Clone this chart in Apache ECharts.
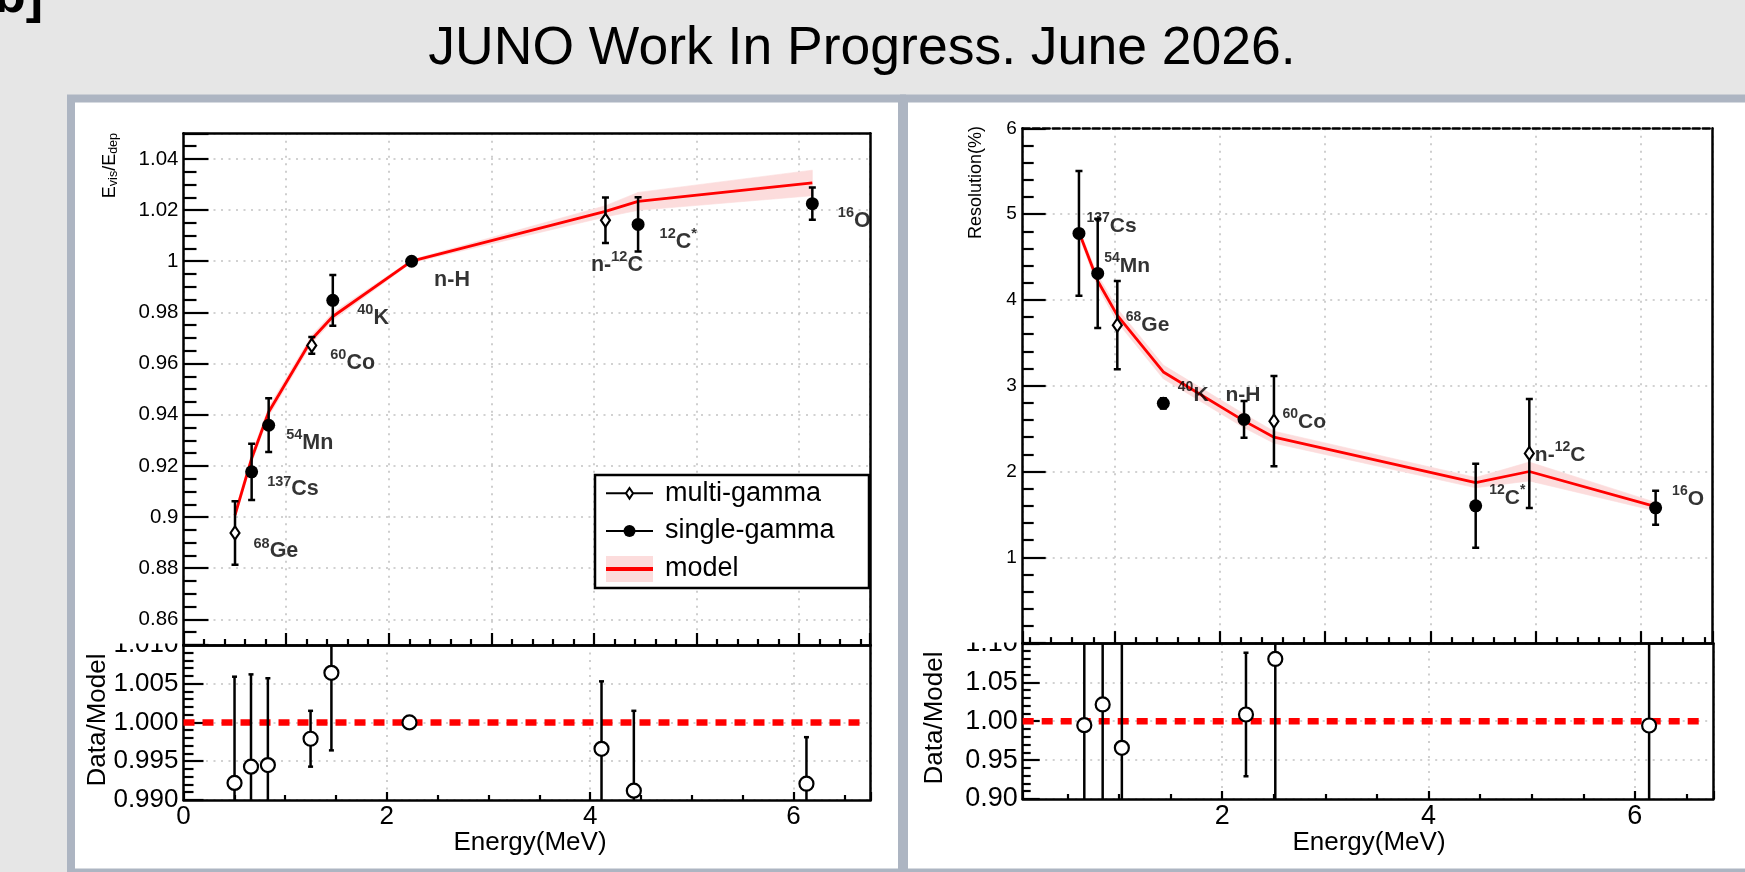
<!DOCTYPE html>
<html>
<head>
<meta charset="utf-8">
<script src="https://cdn.jsdelivr.net/npm/echarts@6/dist/echarts.min.js"></script>
<style>
  html, body { margin: 0; padding: 0; background: #e6e6e6; }
  #chart { width: 1745px; height: 872px; }
</style>
</head>
<body>
<div id="chart"></div>
<script>
const FONT = "'Liberation Sans', Arial, Helvetica, sans-serif";

// ---------- Energy non-linearity (left panel) ----------
const linMultiE   = [0.502, 1.250, 4.112];
const linMultiVal = [0.8938, 0.9671, 1.0160];
const linMultiErr = [0.0124, 0.0033, 0.0089];
const linMultiTag = ['{s|68}{m|Ge}', '{s|60}{m|Co}', '{m|n-}{s|12}{m|C}'];

const linSingleE   = [0.664, 0.830, 1.455, 2.223, 4.430, 6.128];
const linSingleVal = [0.9177, 0.9359, 0.9847, 1.0000, 1.0144, 1.0225];
const linSingleErr = [0.0110, 0.0105, 0.0099, 0.0006, 0.0106, 0.0063];
const linSingleTag = ['{s|137}{m|Cs}', '{s|54}{m|Mn}', '{s|40}{m|K}', '{m|n-H}', '{s|12}{m|C}{s|*}', '{s|16}{m|O}'];

const linModelE    = [0.502, 0.664, 0.830, 1.250, 1.455, 2.223, 4.112, 4.430, 6.128];
const linModel     = [0.9008, 0.9229, 0.9411, 0.9695, 0.9784, 1.0000, 1.0195, 1.0234, 1.0306];
const linModelBand = [0.0015, 0.0018, 0.0018, 0.0016, 0.0015, 0.0006, 0.0022, 0.0035, 0.0050];

const linRatioE   = [0.502, 0.664, 0.830, 1.250, 1.455, 2.223, 4.112, 4.430, 6.128];
const linRatio    = [0.9922, 0.9943, 0.9945, 0.9979, 1.0064, 1.0000, 0.9966, 0.9912, 0.9921];
const linRatioErr = [0.0137, 0.0119, 0.0112, 0.0036, 0.0100, 0.0003, 0.0087, 0.0103, 0.0060];
const linUnityE   = [0.0, 6.66];

// ---------- Energy resolution (right panel) ----------
const resMultiE   = [1.028, 2.515, 4.939];
const resMultiVal = [3.706, 2.587, 2.211];
const resMultiErr = [0.515, 0.525, 0.635];
const resMultiTag = ['{s|68}{m|Ge}', '{s|60}{m|Co}', '{m|n-}{s|12}{m|C}'];

const resSingleE   = [0.664, 0.842, 1.465, 2.231, 4.430, 6.138];
const resSingleVal = [4.775, 4.309, 2.794, 2.607, 1.600, 1.577];
const resSingleErr = [0.726, 0.637, 0.060, 0.214, 0.490, 0.199];
const resSingleTag = ['{s|137}{m|Cs}', '{s|54}{m|Mn}', '{s|40}{m|K}', '{m|n-H}', '{s|12}{m|C}{s|*}', '{s|16}{m|O}'];

const resModelE    = [0.664, 0.842, 1.028, 1.465, 2.231, 2.515, 4.430, 4.939, 6.138];
const resModel     = [4.79, 4.22, 3.82, 3.16, 2.59, 2.40, 1.87, 2.00, 1.59];
const resModelBand = [0.04, 0.07, 0.08, 0.08, 0.08, 0.07, 0.06, 0.11, 0.05];

const resRatioE   = [0.664, 0.842, 1.028, 2.231, 2.515, 6.138];
const resRatio    = [0.9949, 1.0215, 0.9658, 1.0086, 1.0800, 0.9945];
const resRatioErr = [0.152, 0.151, 0.135, 0.0795, 0.219, 0.125];
const resUnityE   = [0.067, 6.68];

// ---------- label placement (pixel offsets from each point) ----------
const tagOffsetLinMulti  = [[19, 19], [19, 18], [-14, 45]];
const tagOffsetLinSingle = [[16, 18], [18, 18], [25, 18], [23, 19], [22, 18], [26, 18]];
const tagOffsetResMulti  = [[9, 1], [9, 2], [6, 2]];
const tagOffsetResSingle = [[8, -7], [7, -7], [15, -8], [-18, -24], [14, -7], [17, -8]];

// ---------- helpers ----------
function valueAxis(o) {
  return {
    type: 'value', gridIndex: o.grid, position: o.pos, min: o.min, max: o.max,
    interval: o.interval, splitNumber: o.splitNumber,
    axisLine: { show: true, onZero: false, lineStyle: { color: '#000', width: 2.5 } },
    axisTick: { show: true, inside: true, length: o.tick, lineStyle: { color: '#000', width: 2.2 } },
    minorTick: { show: true, splitNumber: o.minor, length: o.minorLen, lineStyle: { color: '#000', width: 2.2 } },
    splitLine: { show: true, lineStyle: { color: '#c2c2c2', width: 1.6, type: [2, 5.5] } },
    axisLabel: o.font ? {
      show: true, color: '#000', fontFamily: FONT, fontSize: o.font, margin: o.margin,
      showMinLabel: o.showMin, showMaxLabel: o.showMax, formatter: o.fmt
    } : { show: false }
  };
}
function frameAxis(grid, pos, min, max, dash) {
  return {
    type: 'value', gridIndex: grid, position: pos, min: min, max: max,
    axisLine: { show: true, onZero: false, lineStyle: { color: '#000', width: 2.5, type: dash || 'solid' } },
    axisTick: { show: false }, minorTick: { show: false },
    axisLabel: { show: false }, splitLine: { show: false }
  };
}
function bandSeries(xi, yi, E, M, B) {
  const segs = [];
  for (let i = 0; i < E.length - 1; i++) {
    segs.push([E[i], M[i] - B[i], M[i] + B[i], E[i + 1], M[i + 1] - B[i + 1], M[i + 1] + B[i + 1]]);
  }
  return {
    type: 'custom', xAxisIndex: xi, yAxisIndex: yi, z: 1, silent: true, clip: true,
    data: segs, encode: { x: [0, 3], y: [1, 2, 4, 5] },
    renderItem(params, api) {
      const a = api.coord([api.value(0), api.value(1)]);
      const b = api.coord([api.value(3), api.value(4)]);
      const c = api.coord([api.value(3), api.value(5)]);
      const d = api.coord([api.value(0), api.value(2)]);
      return { type: 'polygon', shape: { points: [a, b, c, d] },
        style: { fill: '#fcdcdc', stroke: '#fcdcdc', lineWidth: 0.6 } };
    }
  };
}
function lineSeries(xi, yi, E, V, style, z) {
  return {
    type: 'line', xAxisIndex: xi, yAxisIndex: yi, z: z, silent: true,
    symbol: 'none', data: E.map((e, i) => [e, V[i]]), lineStyle: style
  };
}
function errorBars(xi, yi, E, V, Err, cap) {
  return {
    type: 'custom', xAxisIndex: xi, yAxisIndex: yi, z: 3, silent: true, clip: true,
    data: E.map((e, i) => [e, V[i] - Err[i], V[i] + Err[i]]),
    encode: { x: 0, y: [1, 2] },
    renderItem(params, api) {
      const lo = api.coord([api.value(0), api.value(1)]);
      const hi = api.coord([api.value(0), api.value(2)]);
      const st = { stroke: '#000', lineWidth: 2.5 };
      const kids = [{ type: 'line', shape: { x1: lo[0], y1: lo[1], x2: hi[0], y2: hi[1] }, style: st }];
      if (cap) {
        kids.push({ type: 'line', shape: { x1: hi[0] - cap, y1: hi[1], x2: hi[0] + cap, y2: hi[1] }, style: st });
        kids.push({ type: 'line', shape: { x1: lo[0] - cap, y1: lo[1], x2: lo[0] + cap, y2: lo[1] }, style: st });
      }
      return { type: 'group', children: kids };
    }
  };
}
function markers(name, xi, yi, E, V, symbol, size, open) {
  return {
    type: 'scatter', name: name, xAxisIndex: xi, yAxisIndex: yi, z: 4, silent: true,
    symbol: symbol, symbolSize: size,
    itemStyle: open ? { color: '#fff', borderColor: '#000', borderWidth: 2.2, opacity: 1 }
                    : { color: '#000', borderWidth: 0, opacity: 1 },
    data: E.map((e, i) => [e, V[i]])
  };
}
function tags(xi, yi, E, V, T, offsets, big, small) {
  const rich = {
    m: { fontFamily: FONT, fontWeight: 'bold', fontSize: big, color: '#000', lineHeight: big + 9 },
    s: { fontFamily: FONT, fontWeight: 'bold', fontSize: small, color: '#000', lineHeight: small, verticalAlign: 'top' }
  };
  return {
    type: 'scatter', xAxisIndex: xi, yAxisIndex: yi, z: 5, silent: true, clip: false,
    symbol: 'circle', symbolSize: 1, itemStyle: { color: 'rgba(0,0,0,0)' },
    data: E.map((e, i) => ({
      value: [e, V[i]],
      label: {
        show: true, formatter: () => T[i], position: [offsets[i][0], offsets[i][1]],
        align: 'left', verticalAlign: 'middle', rich: rich
      }
    }))
  };
}

// ---------- axes ----------
const xAxes = [
  valueAxis({ grid: 0, pos: 'bottom', min: 0, max: 6.69, interval: 1, tick: 12, minor: 5, minorLen: 6 }),
  frameAxis(0, 'top', 0, 6.69),
  valueAxis({ grid: 1, pos: 'bottom', min: 0, max: 6.76, interval: 2, tick: 8, minor: 4, minorLen: 5,
              font: 26, margin: 4, showMin: true, showMax: false, fmt: v => String(Math.round(v)) }),
  frameAxis(1, 'top', 0, 6.76),
  valueAxis({ grid: 2, pos: 'bottom', min: 0.13, max: 6.676, splitNumber: 6, tick: 12, minor: 5, minorLen: 6 }),
  frameAxis(2, 'top', 0.13, 6.676, [7, 3]),
  valueAxis({ grid: 3, pos: 'bottom', min: 0.067, max: 6.76, splitNumber: 3, tick: 8, minor: 4, minorLen: 5,
              font: 27, margin: 4, showMin: false, showMax: false, fmt: v => String(Math.round(v)) }),
  frameAxis(3, 'top', 0.067, 6.76)
];
const yAxes = [
  valueAxis({ grid: 0, pos: 'left', min: 0.85, max: 1.05, splitNumber: 10, tick: 25, minor: 4, minorLen: 13,
              font: 20.5, margin: 5, showMin: false, showMax: false, fmt: v => String(+v.toFixed(2)) }),
  frameAxis(0, 'right', 0.85, 1.05),
  valueAxis({ grid: 1, pos: 'left', min: 0.99, max: 1.01, interval: 0.005, tick: 20, minor: 5, minorLen: 10,
              font: 26, margin: 5, showMin: true, showMax: true, fmt: v => v.toFixed(3) }),
  frameAxis(1, 'right', 0.99, 1.01),
  valueAxis({ grid: 2, pos: 'left', min: 0, max: 6, interval: 1, tick: 23, minor: 5, minorLen: 11,
              font: 19, margin: 6, showMin: false, showMax: true, fmt: v => String(Math.round(v)) }),
  frameAxis(2, 'right', 0, 6),
  valueAxis({ grid: 3, pos: 'left', min: 0.9, max: 1.1, interval: 0.05, tick: 17, minor: 5, minorLen: 8,
              font: 27, margin: 5, showMin: true, showMax: true, fmt: v => v.toFixed(2) }),
  frameAxis(3, 'right', 0.9, 1.1)
];

// ---------- series ----------
const redLine = { color: '#ff0000', width: 2.8 };
const redDash = { color: '#ff0000', width: 6.5, type: [11, 8] };
const series = [
  bandSeries(0, 0, linModelE, linModel, linModelBand),
  lineSeries(0, 0, linModelE, linModel, redLine, 2),
  errorBars(0, 0, linMultiE, linMultiVal, linMultiErr, 3.5),
  errorBars(0, 0, linSingleE, linSingleVal, linSingleErr, 3.5),
  markers('multi-gamma', 0, 0, linMultiE, linMultiVal, 'diamond', [9, 13], true),
  markers('single-gamma', 0, 0, linSingleE, linSingleVal, 'circle', 13, false),
  tags(0, 0, linMultiE, linMultiVal, linMultiTag, tagOffsetLinMulti, 21.5, 14.5),
  tags(0, 0, linSingleE, linSingleVal, linSingleTag, tagOffsetLinSingle, 21.5, 14.5),

  lineSeries(2, 2, linUnityE, [1, 1], redDash, 2),
  errorBars(2, 2, linRatioE, linRatio, linRatioErr, 2.5),
  markers('ratio', 2, 2, linRatioE, linRatio, 'circle', 14, true),

  bandSeries(4, 4, resModelE, resModel, resModelBand),
  lineSeries(4, 4, resModelE, resModel, redLine, 2),
  errorBars(4, 4, resMultiE, resMultiVal, resMultiErr, 3.5),
  errorBars(4, 4, resSingleE, resSingleVal, resSingleErr, 3.5),
  markers('multi-gamma', 4, 4, resMultiE, resMultiVal, 'diamond', [9, 13], true),
  markers('single-gamma', 4, 4, resSingleE, resSingleVal, 'circle', 13, false),
  tags(4, 4, resMultiE, resMultiVal, resMultiTag, tagOffsetResMulti, 21, 14),
  tags(4, 4, resSingleE, resSingleVal, resSingleTag, tagOffsetResSingle, 21, 14),

  lineSeries(6, 6, resUnityE, [1, 1], redDash, 2),
  errorBars(6, 6, resRatioE, resRatio, resRatioErr, 2.5),
  markers('ratio', 6, 6, resRatioE, resRatio, 'circle', 14, true)
];

// ---------- page decorations, titles and legend ----------
function txt(x, y, text, size, extra) {
  return Object.assign({ type: 'text', x: x, y: y, z: 30,
    style: Object.assign({ text: text, fontFamily: FONT, fontSize: size, fill: '#000',
      align: 'center', verticalAlign: 'middle' }, extra && extra.style) }, extra && extra.el);
}
const panelStyle = { fill: '#ffffff', stroke: '#adb5c2', lineWidth: 8 };
const LZ = 40;   // legend drawn above the grid lines
const graphics = [
  { type: 'rect', z: -10, shape: { x: 71, y: 98.5, width: 831, height: 774 }, style: panelStyle },
  { type: 'rect', z: -10, shape: { x: 904, y: 98.5, width: 845, height: 774 }, style: panelStyle },
  // the upper pads sit on top of the ratio pads' highest tick label
  { type: 'rect', z: 20, shape: { x: 90, y: 628, width: 91, height: 15.5 }, style: { fill: '#fff' } },
  { type: 'rect', z: 20, shape: { x: 925, y: 628, width: 95, height: 14.5 }, style: { fill: '#fff' } },

  txt(-6, -2, 'b]', 52, { style: { fontWeight: 'bold', align: 'left' } }),
  txt(862, 49, 'JUNO Work In Progress. June 2026.', 53.5),

  txt(110, 133, '{m|E}{b|vis}{m|/E}{b|dep}', 18, { el: { rotation: Math.PI / 2 }, style: { align: 'right',
    rich: { m: { fontFamily: FONT, fontSize: 18, fill: '#000', lineHeight: 20 },
            b: { fontFamily: FONT, fontSize: 12.5, fill: '#000', lineHeight: 12, verticalAlign: 'bottom' } } } }),
  txt(976, 126, 'Resolution(%)', 18, { el: { rotation: Math.PI / 2 }, style: { align: 'right' } }),
  txt(98, 720, 'Data/Model', 26, { el: { rotation: Math.PI / 2 } }),
  txt(935, 718, 'Data/Model', 26, { el: { rotation: Math.PI / 2 } }),
  txt(530, 843, 'Energy(MeV)', 26),
  txt(1369, 843, 'Energy(MeV)', 26),

  // legend box
  { type: 'rect', z: LZ, shape: { x: 595, y: 475, width: 274, height: 113 },
    style: { fill: '#fff', stroke: '#000', lineWidth: 2.5 } },
  { type: 'rect', z: LZ, shape: { x: 606, y: 492.3, width: 47, height: 2 }, style: { fill: '#000' } },
  { type: 'polygon', z: LZ + 1, shape: { points: [[629.5, 488], [633, 493.3], [629.5, 498.6], [626, 493.3]] },
    style: { fill: '#fff', stroke: '#000', lineWidth: 2 } },
  { type: 'text', z: LZ, x: 665, y: 493.3, style: { text: 'multi-gamma', fontFamily: FONT, fontSize: 27, fill: '#000', verticalAlign: 'middle' } },
  { type: 'rect', z: LZ, shape: { x: 606, y: 530, width: 47, height: 2 }, style: { fill: '#000' } },
  { type: 'circle', z: LZ + 1, shape: { cx: 629.5, cy: 531, r: 6 }, style: { fill: '#000' } },
  { type: 'text', z: LZ, x: 665, y: 531, style: { text: 'single-gamma', fontFamily: FONT, fontSize: 27, fill: '#000', verticalAlign: 'middle' } },
  { type: 'rect', z: LZ, shape: { x: 606, y: 556, width: 47, height: 26 }, style: { fill: '#fcdcdc' } },
  { type: 'rect', z: LZ + 1, shape: { x: 606, y: 567, width: 47, height: 4 }, style: { fill: '#ff0000' } },
  { type: 'text', z: LZ, x: 665, y: 568.3, style: { text: 'model', fontFamily: FONT, fontSize: 27, fill: '#000', verticalAlign: 'middle' } }
];

const chart = echarts.init(document.getElementById('chart'), null, { renderer: 'canvas', width: 1745, height: 872 });
chart.setOption({
  backgroundColor: '#e6e6e6',
  animation: false,
  grid: [
    { left: 183.5, top: 133.3, width: 686.5, height: 511.7, outerBoundsMode: 'none', containLabel: false },
    { left: 183.5, top: 644.9, width: 687.2, height: 155.1, outerBoundsMode: 'none', containLabel: false },
    { left: 1022.7, top: 128.3, width: 689.6, height: 514.8, outerBoundsMode: 'none', containLabel: false },
    { left: 1022.7, top: 643.4, width: 690.6, height: 155.6, outerBoundsMode: 'none', containLabel: false }
  ],
  xAxis: xAxes,
  yAxis: yAxes,
  series: series,
  graphic: graphics
});
</script>
</body>
</html>
